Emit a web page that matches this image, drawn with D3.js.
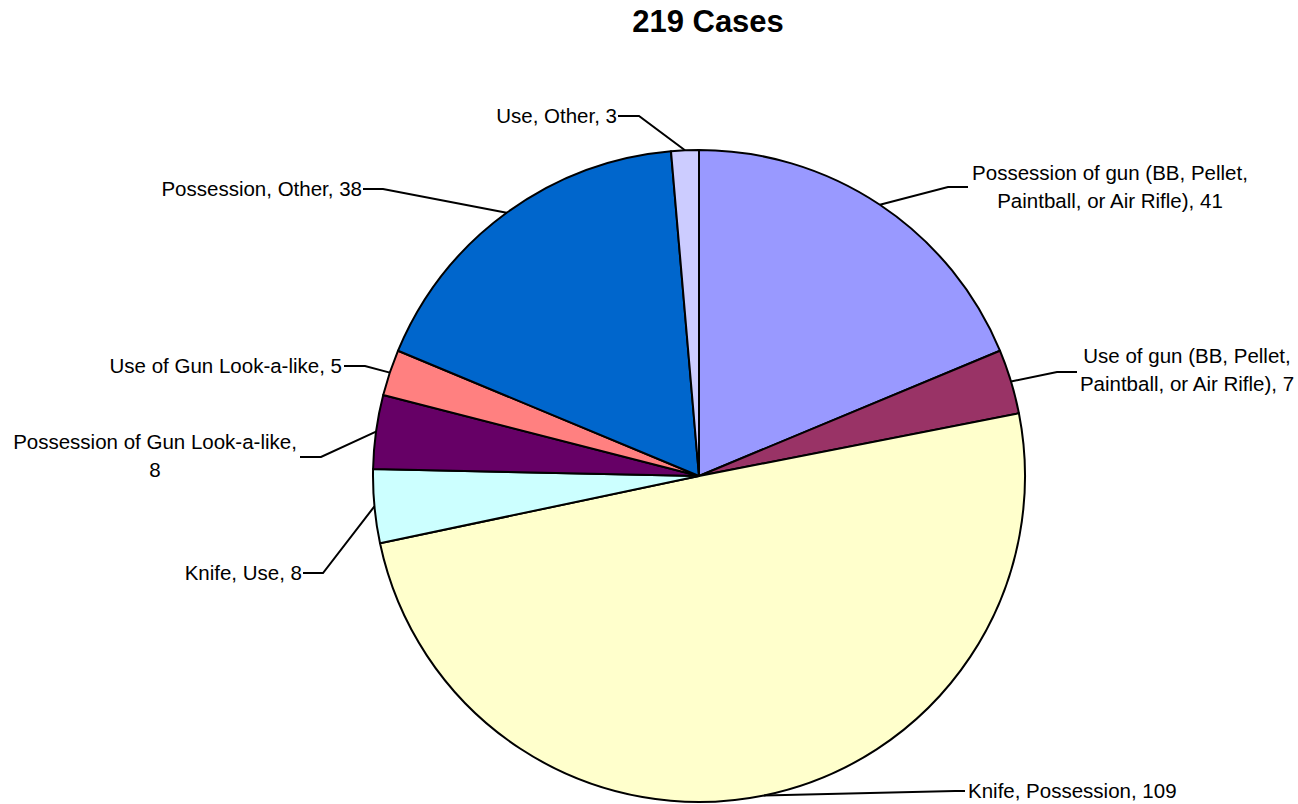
<!DOCTYPE html>
<html>
<head>
<meta charset="utf-8">
<script src="https://cdn.jsdelivr.net/npm/d3@7"></script>
<style>
  body { margin: 0; background: #fff; }
  text { font-family: "Liberation Sans", Arial, sans-serif; fill: #000; }
</style>
</head>
<body>
<svg id="chart" width="1298" height="804"></svg>
<script>
// data, clockwise from 12 o'clock
const categories = [
  'Possession of gun (BB, Pellet, Paintball, or Air Rifle)',
  'Use of gun (BB, Pellet, Paintball, or Air Rifle)',
  'Knife, Possession',
  'Knife, Use',
  'Possession of Gun Look-a-like',
  'Use of Gun Look-a-like',
  'Possession, Other',
  'Use, Other'
];
const cases = [41, 7, 109, 8, 8, 5, 38, 3];
const sliceColors = ['#9999FF', '#993366', '#FFFFCC', '#CCFFFF', '#660066', '#FF8080', '#0066CC', '#CCCCFF'];
// how each label text is wrapped
const labelLines = [
  ['Possession of gun (BB, Pellet,', 'Paintball, or Air Rifle), 41'],
  ['Use of gun (BB, Pellet,', 'Paintball, or Air Rifle), 7'],
  ['Knife, Possession, 109'],
  ['Knife, Use, 8'],
  ['Possession of Gun Look-a-like,', '8'],
  ['Use of Gun Look-a-like, 5'],
  ['Possession, Other, 38'],
  ['Use, Other, 3']
];
const title = d3.sum(cases) + ' Cases';

// label layout: elbow of leader, end of horizontal stub, text anchor
const labelLayout = [
  { elbow: [948, 187], stub: 968, tx: 1110, ty: 180, anchor: 'middle' },
  { elbow: [1057, 372], stub: 1077, tx: 1187, ty: 363, anchor: 'middle' },
  { elbow: [955, 791], stub: 965, tx: 968, ty: 798, anchor: 'start' },
  { elbow: [323, 573], stub: 303, tx: 302, ty: 580, anchor: 'end' },
  { elbow: [321, 457], stub: 300, tx: 155, ty: 449, anchor: 'middle' },
  { elbow: [365, 366], stub: 344, tx: 342, ty: 373, anchor: 'end' },
  { elbow: [383, 189], stub: 363, tx: 362, ty: 196, anchor: 'end' },
  { elbow: [639, 116], stub: 618, tx: 617, ty: 123, anchor: 'end' }
];

const cx = 699, cy = 476, radius = 326;
const svg = d3.select('#chart');

svg.append('text')
  .attr('x', 708)
  .attr('y', 32)
  .attr('text-anchor', 'middle')
  .style('font-size', '31px')
  .style('font-weight', 'bold')
  .text(title);

const pie = d3.pie().sort(null).value(d => d)(cases);
const arc = d3.arc().innerRadius(0).outerRadius(radius);

const main = svg.append('g').attr('transform', `translate(${cx},${cy})`);

main.selectAll('path.slice')
  .data(pie)
  .enter()
  .append('path')
  .attr('class', 'slice')
  .attr('d', arc)
  .attr('fill', (d, i) => sliceColors[i])
  .attr('stroke', '#000')
  .attr('stroke-width', 2)
  .attr('stroke-linejoin', 'round');

const labels = svg.append('g').attr('class', 'labels');

pie.forEach((d, i) => {
  const mid = (d.startAngle + d.endAngle) / 2;
  const p0 = [cx + radius * Math.sin(mid), cy - radius * Math.cos(mid)];
  const lay = labelLayout[i];
  labels.append('path')
    .attr('d', d3.line()([p0, lay.elbow, [lay.stub, lay.elbow[1]]]))
    .attr('fill', 'none')
    .attr('stroke', '#000')
    .attr('stroke-width', 2);

  const t = labels.append('text')
    .attr('text-anchor', lay.anchor)
    .style('font-size', '20.5px');
  labelLines[i].forEach((line, j) => {
    t.append('tspan')
      .attr('x', lay.tx)
      .attr('y', lay.ty + j * 28)
      .text(line);
  });
});
</script>
</body>
</html>
